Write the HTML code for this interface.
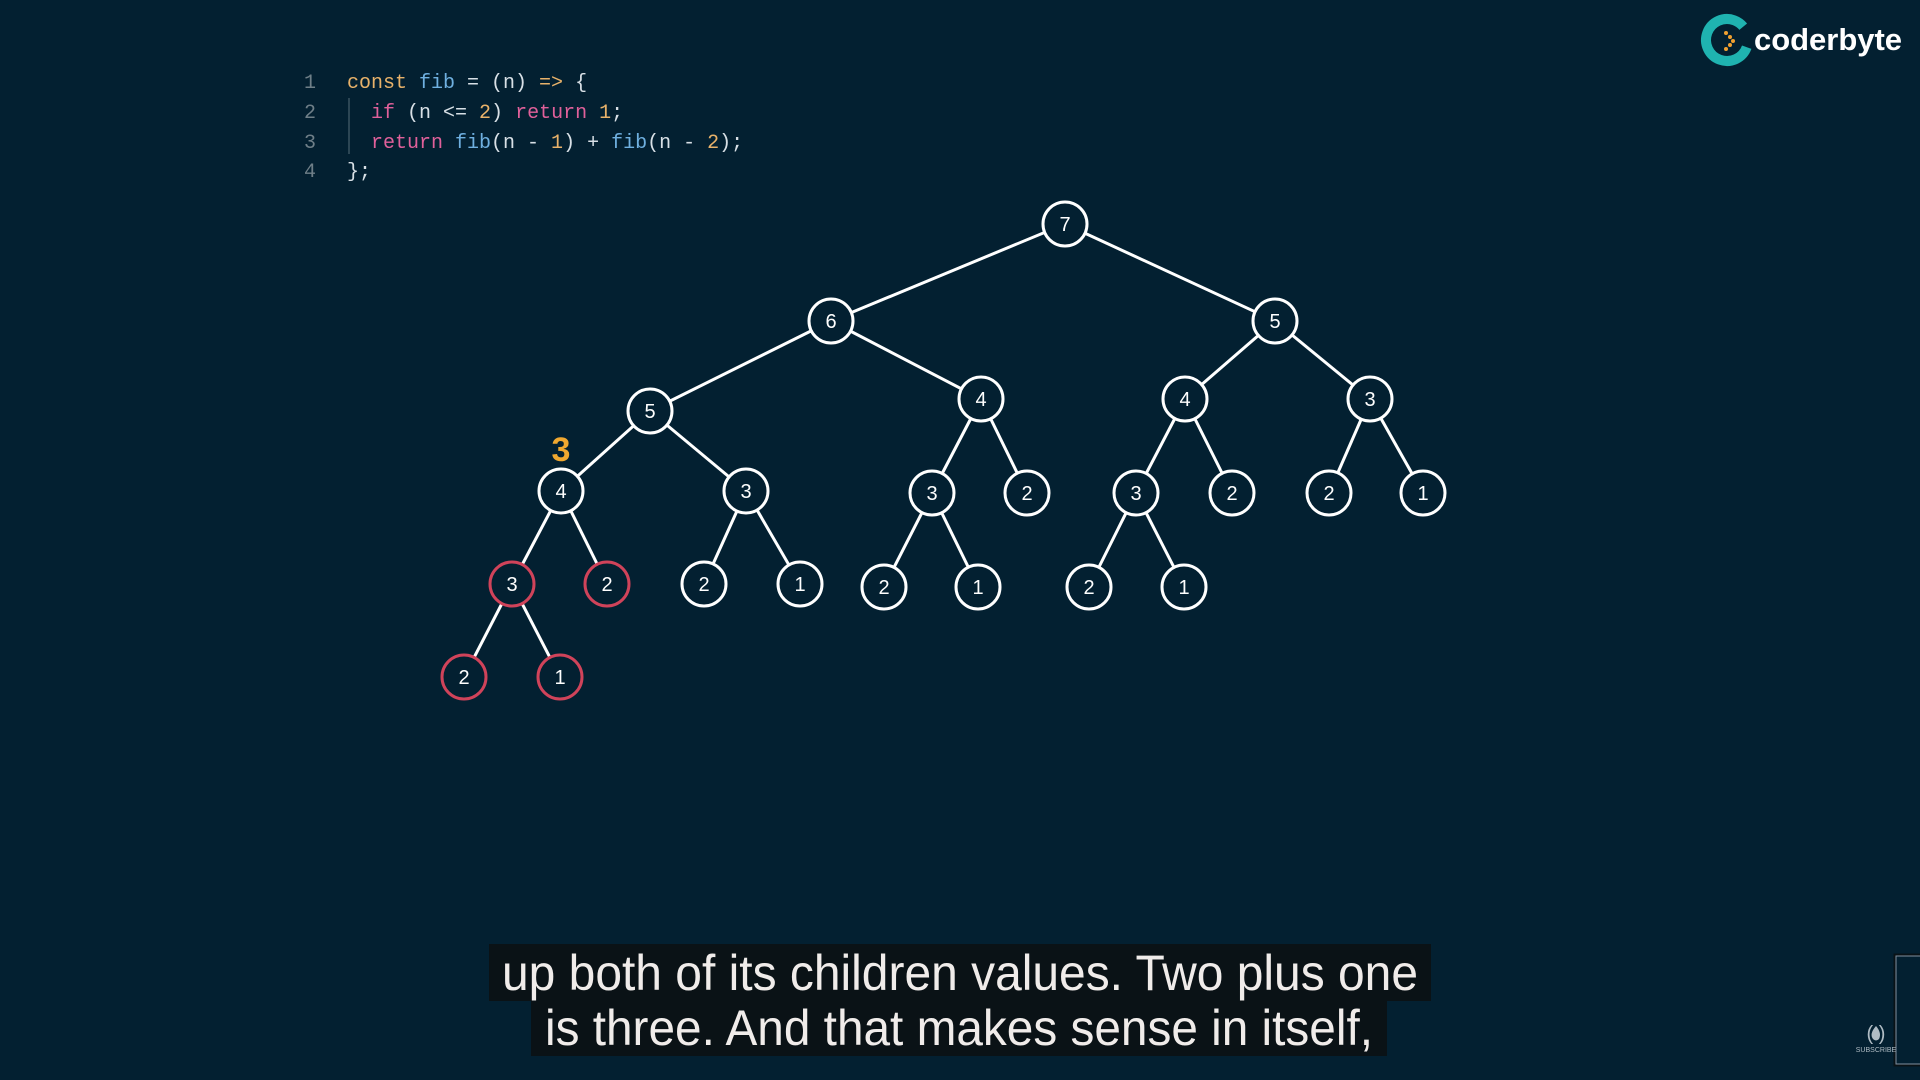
<!DOCTYPE html>
<html><head><meta charset="utf-8"><style>
html,body{margin:0;padding:0;background:#032031;width:1920px;height:1080px;overflow:hidden}
</style></head><body>
<svg width="1920" height="1080" viewBox="0 0 1920 1080" xmlns="http://www.w3.org/2000/svg">
<rect width="1920" height="1080" fill="#032031"/>
<g font-family="'Liberation Mono', monospace" font-size="20">
<g fill="#6f7f88"><text x="304" y="88">1</text><text x="304" y="118">2</text><text x="304" y="148">3</text><text x="304" y="177">4</text></g>
<line x1="349" y1="98" x2="349" y2="154" stroke="#3a5260" stroke-width="1.5"/>
<text x="347" y="88" xml:space="preserve"><tspan fill="#e8b26a">const</tspan><tspan fill="#6fb0e0"> fib</tspan><tspan fill="#d8e0e6"> = (n) </tspan><tspan fill="#e8b26a">=&gt;</tspan><tspan fill="#d8e0e6"> {</tspan></text>
<text x="371" y="118" xml:space="preserve"><tspan fill="#e0609a">if</tspan><tspan fill="#d8e0e6"> (n &lt;= </tspan><tspan fill="#e8b26a">2</tspan><tspan fill="#d8e0e6">) </tspan><tspan fill="#e0609a">return</tspan><tspan fill="#e8b26a"> 1</tspan><tspan fill="#d8e0e6">;</tspan></text>
<text x="371" y="148" xml:space="preserve"><tspan fill="#e0609a">return</tspan><tspan fill="#6fb0e0"> fib</tspan><tspan fill="#d8e0e6">(n - </tspan><tspan fill="#e8b26a">1</tspan><tspan fill="#d8e0e6">) + </tspan><tspan fill="#6fb0e0">fib</tspan><tspan fill="#d8e0e6">(n - </tspan><tspan fill="#e8b26a">2</tspan><tspan fill="#d8e0e6">);</tspan></text>
<text x="347" y="177" fill="#d8e0e6">};</text>
</g>
<circle cx="1727" cy="40" r="21" fill="none" stroke="#1fb3b0" stroke-width="10" stroke-dasharray="110 22" transform="rotate(20 1727 40)"/>
<g fill="#f0a030"><circle cx="1726" cy="33" r="2"/><circle cx="1730" cy="37" r="2"/><circle cx="1733" cy="41" r="2"/><circle cx="1730" cy="45" r="2"/><circle cx="1726" cy="49" r="2"/></g>
<text x="1754" y="50" font-family="'Liberation Sans', sans-serif" font-weight="bold" font-size="31" fill="#ffffff" textLength="148">coderbyte</text>
<g stroke="#ffffff" stroke-width="3">
<line x1="1065" y1="224" x2="831" y2="321"/><line x1="1065" y1="224" x2="1275" y2="321"/>
<line x1="831" y1="321" x2="650" y2="411"/><line x1="831" y1="321" x2="981" y2="399"/>
<line x1="1275" y1="321" x2="1185" y2="399"/><line x1="1275" y1="321" x2="1370" y2="399"/>
<line x1="650" y1="411" x2="561" y2="491"/><line x1="650" y1="411" x2="746" y2="491"/>
<line x1="981" y1="399" x2="932" y2="493"/><line x1="981" y1="399" x2="1027" y2="493"/>
<line x1="1185" y1="399" x2="1136" y2="493"/><line x1="1185" y1="399" x2="1232" y2="493"/>
<line x1="1370" y1="399" x2="1329" y2="493"/><line x1="1370" y1="399" x2="1423" y2="493"/>
<line x1="561" y1="491" x2="512" y2="584"/><line x1="561" y1="491" x2="607" y2="584"/>
<line x1="746" y1="491" x2="704" y2="584"/><line x1="746" y1="491" x2="800" y2="584"/>
<line x1="932" y1="493" x2="884" y2="587"/><line x1="932" y1="493" x2="978" y2="587"/>
<line x1="1136" y1="493" x2="1089" y2="587"/><line x1="1136" y1="493" x2="1184" y2="587"/>
<line x1="512" y1="584" x2="464" y2="677"/><line x1="512" y1="584" x2="560" y2="677"/>
</g>
<g font-family="'Liberation Sans', sans-serif" font-size="20" fill="#ffffff" text-anchor="middle">
<g stroke-width="3" fill="#032031">
<g stroke="#ffffff">
<circle cx="1065" cy="224" r="22"/><circle cx="831" cy="321" r="22"/><circle cx="1275" cy="321" r="22"/>
<circle cx="650" cy="411" r="22"/><circle cx="981" cy="399" r="22"/><circle cx="1185" cy="399" r="22"/><circle cx="1370" cy="399" r="22"/>
<circle cx="561" cy="491" r="22"/><circle cx="746" cy="491" r="22"/><circle cx="932" cy="493" r="22"/><circle cx="1027" cy="493" r="22"/><circle cx="1136" cy="493" r="22"/><circle cx="1232" cy="493" r="22"/><circle cx="1329" cy="493" r="22"/><circle cx="1423" cy="493" r="22"/>
<circle cx="704" cy="584" r="22"/><circle cx="800" cy="584" r="22"/><circle cx="884" cy="587" r="22"/><circle cx="978" cy="587" r="22"/><circle cx="1089" cy="587" r="22"/><circle cx="1184" cy="587" r="22"/>
</g>
<g stroke="#d0435a">
<circle cx="512" cy="584" r="22"/><circle cx="607" cy="584" r="22"/><circle cx="464" cy="677" r="22"/><circle cx="560" cy="677" r="22"/>
</g>
</g>
<text x="1065" y="231">7</text><text x="831" y="328">6</text><text x="1275" y="328">5</text>
<text x="650" y="418">5</text><text x="981" y="406">4</text><text x="1185" y="406">4</text><text x="1370" y="406">3</text>
<text x="561" y="498">4</text><text x="746" y="498">3</text><text x="932" y="500">3</text><text x="1027" y="500">2</text><text x="1136" y="500">3</text><text x="1232" y="500">2</text><text x="1329" y="500">2</text><text x="1423" y="500">1</text>
<text x="512" y="591">3</text><text x="607" y="591">2</text><text x="704" y="591">2</text><text x="800" y="591">1</text><text x="884" y="594">2</text><text x="978" y="594">1</text><text x="1089" y="594">2</text><text x="1184" y="594">1</text>
<text x="464" y="684">2</text><text x="560" y="684">1</text>
<text x="561" y="461" font-size="34" font-weight="bold" fill="#f0a830">3</text>
</g>
<rect x="489" y="944" width="942" height="57" fill="#0a1216"/>
<rect x="531" y="1001" width="856" height="55" fill="#0a1216"/>
<g font-family="'Liberation Sans', sans-serif" font-size="50" fill="#f0ecea">
<text x="502" y="990" textLength="916" lengthAdjust="spacingAndGlyphs">up both of its children values. Two plus one</text>
<text x="545" y="1045" textLength="828" lengthAdjust="spacingAndGlyphs">is three. And that makes sense in itself,</text>
</g>
<rect x="1895" y="955" width="30" height="110" fill="#032031" stroke="#0a1216" stroke-width="3"/>
<rect x="1896" y="956" width="30" height="108" fill="none" stroke="#8090a0" stroke-width="1"/>
<text x="1876" y="1040" font-family="'Liberation Sans', sans-serif" font-size="20" fill="#b0bcc4" text-anchor="middle">( )</text>
<path d="M1876 1026 q-7 8 -3 13 q3 3 6 0 q3 -6 -3 -13z" fill="#b0bcc4"/>
<text x="1876" y="1052" font-family="'Liberation Sans', sans-serif" font-size="7" fill="#b0bcc4" text-anchor="middle">SUBSCRIBE</text>
</svg>
</body></html>
